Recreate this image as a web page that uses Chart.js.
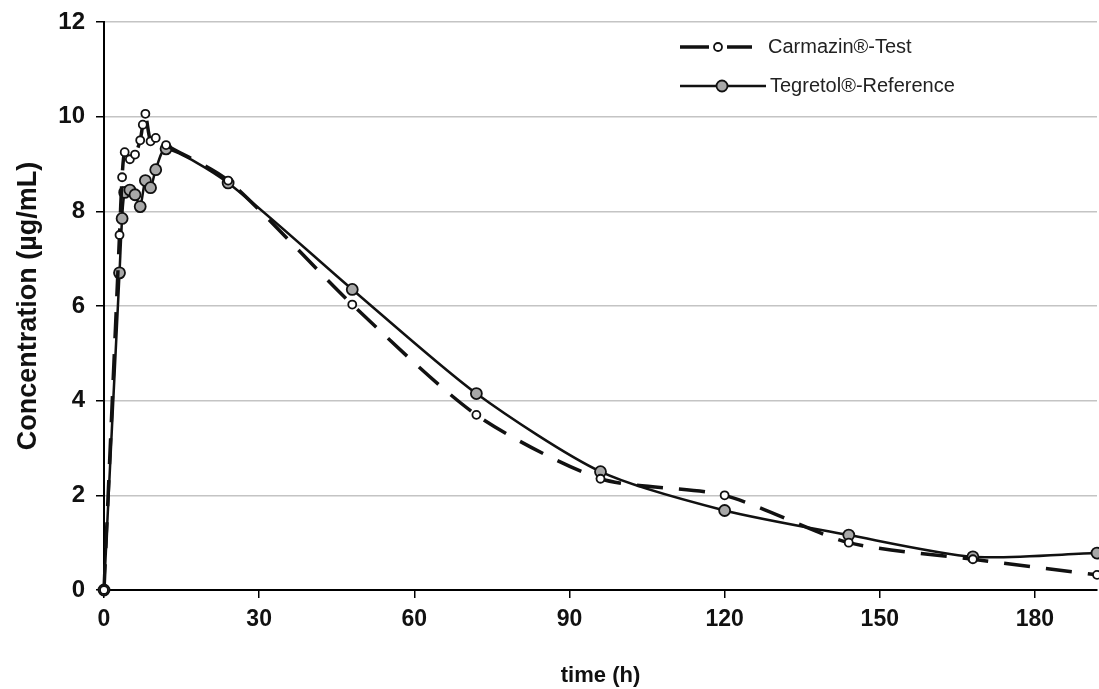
<!DOCTYPE html>
<html>
<head>
<meta charset="utf-8">
<script src="https://cdn.jsdelivr.net/npm/chart.js@4/dist/chart.umd.min.js"></script>
<style>
  html, body { margin: 0; padding: 0; background: #fff; overflow: hidden; }
  canvas { display: block; }
</style>
</head>
<body>
<canvas id="chart-canvas" width="1099" height="689"></canvas>
<script>
// sampling times (h) and concentrations (µg/mL)
const testTimes = [0, 3, 3.5, 4, 5, 6, 7, 7.5, 8, 9, 10, 12, 24, 48, 72, 96, 120, 144, 168, 192];
const testConc = [0, 7.5, 8.72, 9.25, 9.1, 9.2, 9.5, 9.83, 10.06, 9.48, 9.55, 9.4, 8.65, 6.03, 3.7, 2.35, 2.0, 1.0, 0.65, 0.32];

const refTimes = [0, 3, 3.5, 4, 5, 6, 7, 8, 9, 10, 12, 24, 48, 72, 96, 120, 144, 168, 192];
const refConc = [0, 6.7, 7.85, 8.4, 8.45, 8.35, 8.1, 8.65, 8.5, 8.88, 9.32, 8.6, 6.35, 4.15, 2.5, 1.68, 1.16, 0.7, 0.78];

const xTicks = [0, 30, 60, 90, 120, 150, 180];
const seriesNames = ["Carmazin®-Test", "Tegretol®-Reference"];

const toPoints = (xs, ys) => xs.map((x, i) => ({ x: x, y: ys[i] }));

const fam = "'Liberation Sans', Arial, sans-serif";

// legend drawn inside the plot, line + marker sample like the original
const insideLegend = {
  id: "insideLegend",
  afterDraw(chart) {
    const ctx = chart.ctx;
    const rows = [
      { y: 47, ds: chart.data.datasets[0] },
      { y: 86, ds: chart.data.datasets[1] },
    ];
    ctx.save();
    for (const row of rows) {
      const ds = row.ds;
      ctx.strokeStyle = ds.borderColor;
      ctx.lineWidth = ds.borderWidth;
      ctx.beginPath();
      if (ds.borderDash) {
        ctx.moveTo(680, row.y); ctx.lineTo(709, row.y);
        ctx.moveTo(727, row.y); ctx.lineTo(752, row.y);
      } else {
        ctx.moveTo(680, row.y); ctx.lineTo(766, row.y);
      }
      ctx.stroke();
      ctx.beginPath();
      ctx.arc(ds.borderDash ? 718 : 722, row.y, ds.pointRadius, 0, Math.PI * 2);
      ctx.fillStyle = ds.pointBackgroundColor;
      ctx.fill();
      ctx.lineWidth = ds.pointBorderWidth;
      ctx.strokeStyle = ds.pointBorderColor;
      ctx.stroke();
      ctx.fillStyle = "#222";
      ctx.font = "20px " + fam;
      ctx.textBaseline = "middle";
      ctx.fillText(ds.label, ds.borderDash ? 768 : 770, row.y);
    }
    ctx.restore();
  },
};

const config = {
  type: "line",
  data: {
    datasets: [
      {
        label: seriesNames[0],
        data: toPoints(testTimes, testConc),
        borderColor: "#111",
        borderWidth: 3.5,
        borderDash: [26, 16],
        pointRadius: 4,
        pointBackgroundColor: "#fff",
        pointBorderColor: "#111",
        pointBorderWidth: 1.8,
        tension: 0.25,
        clip: false,
      },
      {
        label: seriesNames[1],
        data: toPoints(refTimes, refConc),
        borderColor: "#111",
        borderWidth: 2.5,
        pointRadius: 5.5,
        pointBackgroundColor: "#a8a8a8",
        pointBorderColor: "#111",
        pointBorderWidth: 1.8,
        tension: 0.25,
        clip: false,
      },
    ],
  },
  options: {
    responsive: false,
    animation: false,
    layout: { autoPadding: false, padding: { top: 22, right: 2, left: 0, bottom: 0 } },
    plugins: {
      legend: { display: false },
      tooltip: { enabled: false },
    },
    scales: {
      x: {
        type: "linear",
        min: 0,
        max: 192,
        afterBuildTicks(scale) {
          scale.ticks = xTicks.map((v) => ({ value: v }));
        },
        afterFit(scale) {
          scale.height = 99;
          scale.paddingLeft = 0;
          scale.paddingRight = 0;
        },
        border: { color: "#000", width: 2 },
        grid: { drawOnChartArea: false, color: "#000", tickLength: 8, lineWidth: 1.5 },
        ticks: { color: "#111", font: { family: fam, size: 23, weight: "bold" }, padding: 8, maxRotation: 0 },
        title: {
          display: true,
          text: "time (h)",
          color: "#111",
          font: { family: fam, size: 22, weight: "bold" },
          padding: { top: 4, bottom: 0 },
        },
      },
      y: {
        min: 0,
        max: 12,
        afterFit(scale) {
          scale.width = 104;
          scale.paddingTop = 0;
          scale.paddingBottom = 0;
        },
        border: { color: "#000", width: 2 },
        grid: { color: "#c4c4c4", lineWidth: 1.5, tickColor: "#000", tickLength: 8 },
        ticks: { stepSize: 2, color: "#111", font: { family: fam, size: 24, weight: "bold" }, padding: 11 },
        title: {
          display: true,
          text: "Concentration (µg/mL)",
          color: "#111",
          font: { family: fam, size: 27, weight: "bold" },
          padding: { top: 12, bottom: 4 },
        },
      },
    },
  },
  plugins: [insideLegend],
};

const myChart = new Chart(document.getElementById("chart-canvas"), config);
</script>
</body>
</html>
